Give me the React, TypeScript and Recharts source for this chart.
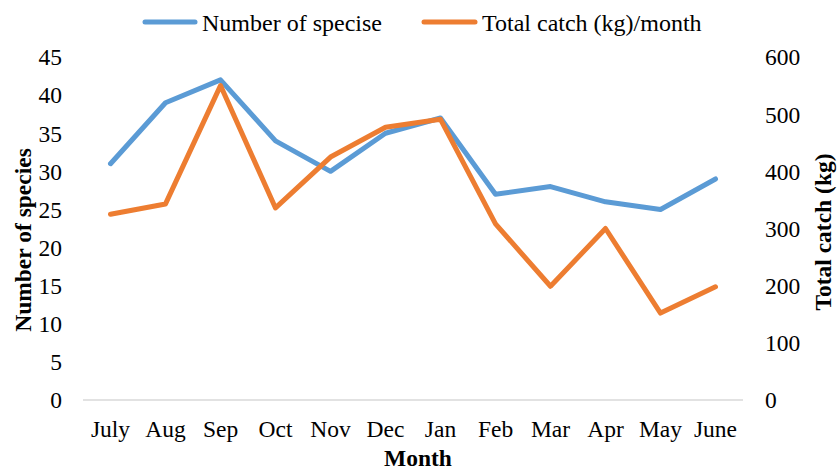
import React from 'react';
import { LineChart, Line, XAxis, YAxis, Legend, Label } from 'recharts';

const months = ['July', 'Aug', 'Sep', 'Oct', 'Nov', 'Dec', 'Jan', 'Feb', 'Mar', 'Apr', 'May', 'June'];
const species = [31, 39, 42, 34, 30, 35, 37, 27, 28, 26, 25, 29];
const catchKg = [325, 343, 550, 336, 425, 477, 491, 308, 199, 300, 152, 198];
const leftTicks = [0, 5, 10, 15, 20, 25, 30, 35, 40, 45];
const rightTicks = [0, 100, 200, 300, 400, 500, 600];

const data = months.map((m, i) => ({ month: m, species: species[i], catchKg: catchKg[i] }));

const FONT = '"Liberation Serif", "Times New Roman", serif';
const BLUE = '#5B9BD5';
const ORANGE = '#ED7D31';
const FS = 23.5;
const tickStyle = { fontFamily: FONT, fontSize: FS, fill: '#000', style: { fontFamily: FONT } };

const LegendContent = () => (
  <svg width={837} height={40} style={{ display: 'block' }}>
    <line x1={145} y1={22} x2={195} y2={22} stroke={BLUE} strokeWidth={5} strokeLinecap="round" />
    <text x={202} y={31} fontFamily={FONT} fontSize={24} fill="#000">Number of specise</text>
    <line x1={424} y1={22} x2={475} y2={22} stroke={ORANGE} strokeWidth={5} strokeLinecap="round" />
    <text x={482} y={31} fontFamily={FONT} fontSize={24} fill="#000">Total catch (kg)/month</text>
  </svg>
);

export default function App() {
  return (
    <div style={{ position: 'absolute', left: 0, top: 0, width: 837, height: 470, background: '#fff', fontFamily: FONT }}>
      <LineChart width={837} height={470} data={data} margin={{ top: 57, right: 0, bottom: 0, left: 0 }} style={{ fontFamily: FONT }}>
        <XAxis
          dataKey="month"
          height={70}
          padding={{ left: 27.5, right: 27.5 }}
          tickLine={false}
          tickSize={0}
          tickMargin={20}
          axisLine={{ stroke: '#D9D9D9', strokeWidth: 1.5 }}
          tick={tickStyle}
          interval={0}
        >
          <Label
            content={(props: any) => {
              const vb = props.viewBox;
              return (
                <text x={vb.x + vb.width / 2 + 5} y={vb.y + 66} textAnchor="middle" fontFamily={FONT} fontSize={FS} fontWeight="bold" fill="#000">
                  Month
                </text>
              );
            }}
          />
        </XAxis>
        <YAxis
          yAxisId="left"
          orientation="left"
          width={83}
          domain={[0, 45]}
          ticks={leftTicks}
          tickLine={false}
          tickSize={0}
          tickMargin={21}
          axisLine={false}
          tick={tickStyle}
        >
          <Label
            content={(props: any) => {
              const vb = props.viewBox;
              const cx = vb.x + 23;
              const cy = 240;
              return (
                <text x={cx} y={cy} transform={`rotate(-90 ${cx} ${cy})`} textAnchor="middle" dominantBaseline="central" fontFamily={FONT} fontSize={FS} fontWeight="bold" fill="#000">
                  Number of species
                </text>
              );
            }}
          />
        </YAxis>
        <YAxis
          yAxisId="right"
          orientation="right"
          width={94}
          domain={[0, 600]}
          ticks={rightTicks}
          tickLine={false}
          tickSize={0}
          tickMargin={22}
          axisLine={false}
          tick={tickStyle}
        >
          <Label
            content={(props: any) => {
              const vb = props.viewBox;
              const cx = vb.x + 80;
              const cy = 232;
              return (
                <text x={cx} y={cy} transform={`rotate(-90 ${cx} ${cy})`} textAnchor="middle" dominantBaseline="central" fontFamily={FONT} fontSize={FS} fontWeight="bold" fill="#000">
                  Total catch (kg)
                </text>
              );
            }}
          />
        </YAxis>
        <Legend
          layout="horizontal"
          verticalAlign="middle"
          align="center"
          wrapperStyle={{ position: 'absolute', top: 0, left: 0, width: 837, height: 40 }}
          content={() => <LegendContent />}
        />
        <Line
          yAxisId="left"
          type="linear"
          dataKey="species"
          stroke={BLUE}
          strokeWidth={5}
          strokeLinecap="round"
          strokeLinejoin="round"
          dot={false}
          activeDot={false}
          isAnimationActive={false}
        />
        <Line
          yAxisId="right"
          type="linear"
          dataKey="catchKg"
          stroke={ORANGE}
          strokeWidth={5}
          strokeLinecap="round"
          strokeLinejoin="round"
          dot={false}
          activeDot={false}
          isAnimationActive={false}
        />
      </LineChart>
    </div>
  );
}
